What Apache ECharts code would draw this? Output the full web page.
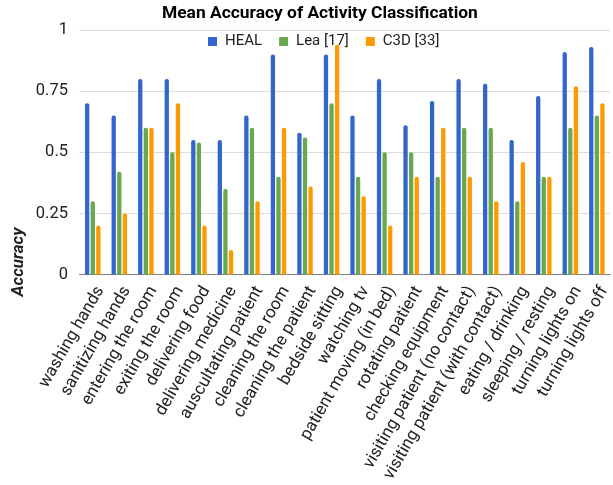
<!DOCTYPE html>
<html>
<head>
<meta charset="utf-8">
<script src="https://cdn.jsdelivr.net/npm/echarts@6/dist/echarts.min.js"></script>
<style>html,body{margin:0;padding:0;background:#fff;}#c{width:613px;height:485px;}</style>
</head>
<body>
<div id="c"></div>
<script>
var categories = ['washing hands','sanitizing hands','entering the room','exiting the room','delivering food','delivering medicine','auscultating patient','cleaning the room','cleaning the patient','bedside sitting','watching tv','patient moving (in bed)','rotating patient','checking equipment','visiting patient (no contact)','visiting patient (with contact)','eating / drinking','sleeping / resting','turning lights on','turning lights off'];
var heal = [0.70,0.65,0.80,0.80,0.55,0.55,0.65,0.90,0.58,0.90,0.65,0.80,0.61,0.71,0.80,0.78,0.55,0.73,0.91,0.93];
var lea  = [0.30,0.42,0.60,0.50,0.54,0.35,0.60,0.40,0.56,0.70,0.40,0.50,0.50,0.40,0.60,0.60,0.30,0.40,0.60,0.65];
var c3d  = [0.20,0.25,0.60,0.70,0.20,0.10,0.30,0.60,0.36,0.94,0.32,0.20,0.40,0.60,0.40,0.30,0.46,0.40,0.77,0.70];
var seriesNames = ['HEAL','Lea [17]','C3D [33]'];
var yTickLabels = ['0','0.25','0.5','0.75','1'];

var chart = echarts.init(document.getElementById('c'));
var font = 'Roboto, "Noto Sans", sans-serif';
function bar(name, data, color) {
  return {
    name: name, type: 'bar', data: data, barWidth: 4.3, barGap: '30%',
    itemStyle: { color: color, borderRadius: [2,2,0,0] }
  };
}
chart.setOption({
  animation: false,
  textStyle: { fontFamily: font },
  title: {
    text: 'Mean Accuracy of Activity Classification',
    left: 162, top: 5, padding: 0,
    textStyle: { fontSize: 17.4, fontWeight: 'bold', color: '#000', fontFamily: font }
  },
  legend: {
    data: seriesNames, top: 34, left: 208, padding: 0,
    icon: 'rect', itemWidth: 9, itemHeight: 9, itemGap: 17,
    textStyle: { fontSize: 15, color: '#222', fontFamily: font, padding: [0, 0, 0, 3] }
  },
  grid: { left: 79.5, right: 0, top: 30, bottom: 210, containLabel: false },
  xAxis: {
    type: 'category', data: categories,
    axisLine: { lineStyle: { color: '#808080', width: 1 } },
    axisTick: { show: false },
    axisLabel: { rotate: 60, interval: 0, margin: 9, fontSize: 17, color: '#222', fontFamily: font,
      verticalAlign: 'top' }
  },
  yAxis: {
    type: 'value', min: 0, max: 1, interval: 0.25,
    axisLine: { show: false }, axisTick: { show: false },
    splitLine: { lineStyle: { color: '#dcdcdc' } },
    axisLabel: {
      margin: 11.5, fontSize: 16.5, color: '#222', fontFamily: font,
      formatter: function (v) { return yTickLabels[Math.round(v / 0.25)]; }
    }
  },
  graphic: [{
    type: 'text', x: 19, y: 262, rotation: Math.PI / 2,
    style: { text: 'Accuracy', fontSize: 17, fontWeight: 'bold', fontStyle: 'italic', fill: '#222',
      fontFamily: font, textAlign: 'center', textVerticalAlign: 'middle' }
  }],
  series: [bar(seriesNames[0], heal, '#3366cc'), bar(seriesNames[1], lea, '#6aa84f'), bar(seriesNames[2], c3d, '#ff9900')]
});
</script>
</body>
</html>
